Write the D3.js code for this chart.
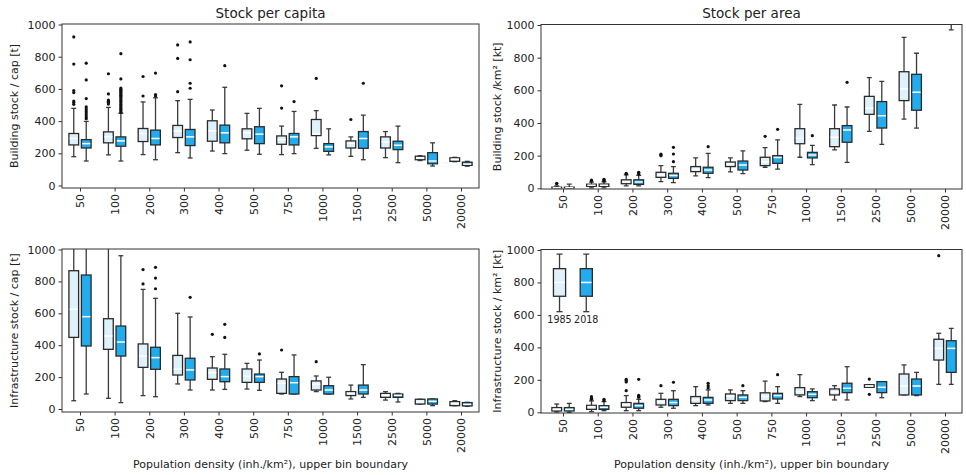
<!DOCTYPE html>
<html><head><meta charset="utf-8">
<script src="https://cdn.jsdelivr.net/npm/d3@7"></script>
<style>body{margin:0;background:#fff}svg{display:block}text{font-family:"DejaVu Sans",sans-serif;fill:#222}</style>
</head><body><svg id="c" width="966" height="475"></svg>
<script>
const categories = ["50","100","200","300","400","500","750","1000","1500","2500","5000","20000"];
const years = ["1985","2018"];
const yTicks = [0,200,400,600,800,1000];
// each entry: [whisker low, q1, median, q3, whisker high]
const buildCap1985 = [[179,252,292,323,479],[190,265,302,333,485],[192,273,323,354,519],[204,298,338,373,527],[214,275,340,402,469],[219,290,327,352,448],[192,256,285,308,369],[231,310,320,410,465],[181,233,262,277,302],[173,233,271,302,335],[155,160,172,182,185],[148,150,163,172,175]];
const buildCap2018 = [[152,233,260,285,398],[152,244,277,302,448],[160,252,292,344,545],[171,248,302,348,535],[198,265,327,375,610],[194,260,319,365,479],[198,252,302,323,460],[190,212,240,260,352],[160,231,292,335,437],[142,223,250,275,369],[121,135,152,204,265],[120,125,133,145,150]];
const buildCapOut1985 = [[923,754,590,577,525,515,504],[694,569,531,523,515,506],[677,556],[873,789,583],[],[],[619,481],[665],[410],[],[],[]];
const buildCapOut2018 = [[760,656,540,488,475,462,450,438,425,415],[819,662,605,598,590,583,576,569,561,553,545,537,528,520,512,503,495,487,478,470,462,455],[698,565,556],[892,781,635,604],[744],[],[521],[],[635],[],[],[]];

const buildArea1985 = [[0,2,4,7,14],[3,12,18,25,38],[15,28,40,52,82],[41,67,82,98,139],[76,102,116,133,186],[100,133,149,161,186],[129,139,163,190,249],[190,273,306,365,514],[235,255,312,365,510],[349,453,490,563,678],[424,537,608,714,924],[1100,1400,1600,1900,2500]];
const buildArea2018 = [[0,2,4,7,25],[3,12,18,26,40],[15,24,38,52,80],[35,61,78,92,133],[65,92,112,129,214],[90,112,143,167,229],[118,153,188,200,296],[145,186,204,220,263],[159,282,357,384,498],[269,369,445,531,655],[369,478,588,698,827],[970,1200,1400,1700,2300]];
const buildAreaOut1985 = [[28,31],[45,50],[88,92],[200,205,210],[],[],[318],[],[],[],[],[]];
const buildAreaOut2018 = [[],[45,50,55],[88,95,98],[163,210,251],[255],[],[361],[322],[649],[],[],[]];

const infraCap1985 = [[52,449,625,867,1300],[67,374,458,566,1150],[84,261,332,408,750],[157,213,249,336,600],[119,186,228,257,328],[125,167,205,251,286],[94,98,161,188,230],[109,119,155,176,207],[63,84,98,109,150],[56,73,86,98,109],[31,31,46,61,61],[21,21,36,46,52]];
const infraCap2018 = [[94,395,579,840,1300],[40,332,420,520,961],[77,249,322,387,694],[119,182,245,318,577],[123,171,203,251,343],[117,167,203,219,307],[94,94,165,203,339],[94,94,119,146,199],[73,94,119,150,278],[44,73,86,94,98],[21,31,48,63,63],[17,19,29,40,42]];
const infraCapOut1985 = [[],[],[874,784],[],[468],[],[370],[297],[],[],[],[]];
const infraCapOut2018 = [[],[],[888,821,754],[700],[531,449],[345],[],[],[],[],[],[]];

const infraArea1985 = [[2,8,18,29,51],[4,18,35,43,70],[10,31,49,60,103],[31,45,64,80,117],[41,55,76,97,158],[55,72,100,113,138],[66,70,97,120,192],[97,107,127,152,232],[76,107,125,144,164],[154,154,162,170,170],[107,107,162,236,292],[172,322,394,450,487]];
const infraArea2018 = [[0,8,18,29,55],[10,18,31,41,66],[10,25,41,55,80],[25,41,60,80,133],[45,55,76,92,138],[55,72,92,107,133],[55,82,103,117,158],[72,90,111,127,144],[76,121,148,179,281],[90,121,154,189,189],[103,107,162,205,246],[172,246,394,441,517]];
const infraAreaOut1985 = [[],[80,86,96],[133,187,195,203],[164],[],[],[],[],[],[205,111],[],[965]];
const infraAreaOut2018 = [[],[72,80],[92,99,105,203],[185],[150,164,179],[164],[232],[],[],[],[],[]];

const legendStats = [620,715,800,885,975];

const fills = ["#dff1fa", "#22acee"];
const offsets = [-0.18, 0.18];
const halfW = 0.14;

const panels = [
  {stats:[buildCap1985,buildCap2018], outs:[buildCapOut1985,buildCapOut2018], fx:[62,479], fy:[24,188], xr:[80,461], yr:[185.5,24.5], title:"Stock per capita", ylabel:"Building stock / cap [t]", ylx:14},
  {stats:[buildArea1985,buildArea2018], outs:[buildAreaOut1985,buildAreaOut2018], fx:[541,962], fy:[24.5,189], xr:[563,945], yr:[188.3,25], title:"Stock per area", ylabel:"Building stock /km\u00b2 [kt]", ylx:497},
  {stats:[infraCap1985,infraCap2018], outs:[infraCapOut1985,infraCapOut2018], fx:[62,479], fy:[249,412], xr:[80,461], yr:[409,249.5], ylabel:"Infrastructure stock / cap [t]", ylx:14, xlabel:true},
  {stats:[infraArea1985,infraArea2018], outs:[infraAreaOut1985,infraAreaOut2018], fx:[541,962], fy:[249.5,413], xr:[563,945], yr:[412.3,250], ylabel:"Infrastructure stock / km\u00b2 [kt]", ylx:497, xlabel:true, legend:true}
];

const svg = d3.select("#c");

function drawBox(g, x, y, s, pos, hw, fill) {
  const stroke = "#3a3a3a";
  g.append("line").attr("x1", x(pos)).attr("x2", x(pos)).attr("y1", y(s[0])).attr("y2", y(s[1])).attr("stroke", stroke).attr("stroke-width", 1.3);
  g.append("line").attr("x1", x(pos)).attr("x2", x(pos)).attr("y1", y(s[3])).attr("y2", y(s[4])).attr("stroke", stroke).attr("stroke-width", 1.3);
  [s[0], s[4]].forEach(v => g.append("line").attr("x1", x(pos - hw/2)).attr("x2", x(pos + hw/2)).attr("y1", y(v)).attr("y2", y(v)).attr("stroke", stroke).attr("stroke-width", 1.3));
  g.append("rect").attr("x", x(pos - hw)).attr("width", x(pos + hw) - x(pos - hw))
    .attr("y", y(s[3])).attr("height", Math.max(0.5, y(s[1]) - y(s[3])))
    .attr("fill", fill).attr("stroke", "#2a2a2a").attr("stroke-width", 1.3);
  g.append("line").attr("x1", x(pos - hw) + 0.8).attr("x2", x(pos + hw) - 0.8).attr("y1", y(s[2])).attr("y2", y(s[2])).attr("stroke", "#ffffff").attr("stroke-width", 1.5);
}

panels.forEach((p, pi) => {
  const x = d3.scaleLinear().domain([1, 12]).range(p.xr);
  const y = d3.scaleLinear().domain([0, 1000]).range(p.yr);
  const g = svg.append("g");
  const cid = "clip" + pi;
  svg.append("clipPath").attr("id", cid).append("rect")
    .attr("x", p.fx[0]).attr("y", p.fy[0]).attr("width", p.fx[1] - p.fx[0]).attr("height", p.fy[1] - p.fy[0]);
  const plot = g.append("g").attr("clip-path", `url(#${cid})`);

  categories.forEach((c, i) => {
    years.forEach((yr, k) => {
      const pos = i + 1 + offsets[k];
      drawBox(plot, x, y, p.stats[k][i], pos, halfW, fills[k]);
      p.outs[k][i].forEach(v => plot.append("circle").attr("cx", x(pos)).attr("cy", y(v)).attr("r", 1.6).attr("fill", "#111"));
    });
  });

  if (p.legend) {
    const lp = [0.9, 1.67];
    years.forEach((yr, k) => {
      drawBox(plot, x, y, legendStats, lp[k], 0.175, fills[k]);
      g.append("text").attr("x", x(lp[k])).attr("y", y(legendStats[0]) + 11)
        .attr("text-anchor", "middle").attr("font-size", "9.6px").text(yr);
    });
  }

  // frame
  g.append("rect").attr("x", p.fx[0]).attr("y", p.fy[0]).attr("width", p.fx[1] - p.fx[0]).attr("height", p.fy[1] - p.fy[0])
    .attr("fill", "none").attr("stroke", "#333").attr("stroke-width", 1);

  // y axis
  const ya = g.append("g").attr("transform", `translate(${p.fx[0]},0)`)
    .call(d3.axisLeft(y).tickValues(yTicks).tickSize(3.5).tickPadding(3).tickFormat(d3.format("d")));
  ya.select(".domain").remove();
  ya.selectAll("line").attr("stroke", "#333");
  ya.selectAll("text").attr("font-size", "11px").style("font-family", "DejaVu Sans").attr("fill", "#222");

  // x axis
  const xa = g.append("g").attr("transform", `translate(0,${p.fy[1]})`)
    .call(d3.axisBottom(x).tickValues(d3.range(1, 13)).tickSize(3.5).tickFormat(d => categories[d - 1]));
  xa.select(".domain").remove();
  xa.selectAll("line").attr("stroke", "#333");
  xa.selectAll("text").attr("font-size", "11px").style("font-family", "DejaVu Sans").attr("fill", "#222")
    .attr("text-anchor", "end").attr("transform", "translate(0,6) rotate(-90)").attr("x", 0).attr("y", 0).attr("dy", "0.35em");

  if (p.title) {
    g.append("text").attr("x", (p.fx[0] + p.fx[1]) / 2).attr("y", 18).attr("text-anchor", "middle")
      .attr("font-size", "13.5px").text(p.title);
  }
  g.append("text").attr("transform", `translate(${p.ylx},${(p.fy[0] + p.fy[1]) / 2}) rotate(-90)`)
    .attr("text-anchor", "middle").attr("dy", "0.35em").attr("font-size", "11px").text(p.ylabel);
  if (p.xlabel) {
    g.append("text").attr("x", (p.fx[0] + p.fx[1]) / 2).attr("y", 468).attr("text-anchor", "middle")
      .attr("font-size", "11px").text("Population density (inh./km\u00b2), upper bin boundary");
  }
});
</script></body></html>
